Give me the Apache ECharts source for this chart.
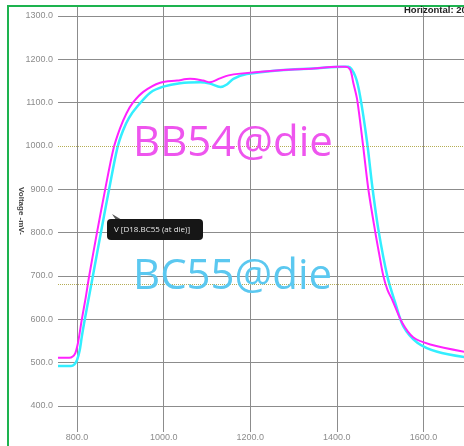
<!DOCTYPE html>
<html>
<head>
<meta charset="utf-8">
<script src="https://cdn.jsdelivr.net/npm/echarts@6/dist/echarts.min.js"></script>
<style>
html,body{margin:0;padding:0;background:#fff;}
#chart{width:464px;height:446px;}
</style>
</head>
<body>
<div id="chart"></div>
<script>
// Tick values
const xTicks = [800, 1000, 1200, 1400, 1600];
const yTicks = [400, 500, 600, 700, 800, 900, 1000, 1100, 1200, 1300];
const refLevels = [1000, 680];

// BB54@die (magenta)
const bb54X = [756,782,790,796,801,806,811,820,828,846,865,884,899,914,929,953,992,1031,1061,1091,1107,1130,1150,1177,1269,1346,1401,1420,1431,1438,1447,1461,1473,1489,1498,1507,1517,1528,1551,1577,1616,1700];
const bb54V = [511,511,514,522,540,568,600,650,700,800,900,993,1040,1075,1100,1125,1146,1151,1155,1151,1147,1156,1163,1167,1175,1179,1183,1183,1176,1146,1107,998,899,800,750,702,668,645,592,558,542,524];

// BC55@die (cyan)
const bc55X = [756,786,794,800,806,811,817,836,855,874,893,906,920,939,969,999,1038,1084,1107,1131,1146,1161,1192,1269,1346,1415,1427,1443,1454,1470,1482,1496,1517,1535,1554,1586,1632,1700];
const bc55V = [492,492,496,506,528,560,595,697,800,900,995,1035,1065,1091,1123,1137,1145,1147,1144,1136,1142,1155,1166,1175,1179,1183,1183,1160,1114,1008,906,807,698,638,583,546,525,512];

const pair = (xs, vs) => xs.map((x, i) => [x, vs[i]]);

const grey = '#8c8c8c';
const splitColors = [300].concat(yTicks).map(v => v === 1000 ? 'rgba(0,0,0,0)' : grey);

const chart = echarts.init(document.getElementById('chart'), null, {renderer: 'canvas'});
chart.setOption({
  animation: false,
  backgroundColor: '#ffffff',
  grid: [
    {left: 58, right: -46, top: 16, bottom: -3.3, containLabel: false, outerBoundsMode: 'none'},
    {left: -9.5, right: -46, top: 7, bottom: 14, containLabel: false, outerBoundsMode: 'none'}
  ],
  xAxis: [
    {gridIndex: 0, type: 'value', min: 756, max: 1800, show: false},
    {gridIndex: 1, type: 'value', min: 600, max: 1800, interval: 200,
     axisLine: {show: false}, axisTick: {show: false},
     axisLabel: {showMinLabel: false, showMaxLabel: false,
       formatter: v => xTicks.indexOf(v) >= 0 ? v.toFixed(1) : '',
       color: grey, fontSize: 9, margin: 1, fontFamily: 'Liberation Sans'},
     splitLine: {show: true, lineStyle: {color: grey, width: 1}}}
  ],
  yAxis: [
    {gridIndex: 0, type: 'value', min: 300, max: 1300, interval: 100,
     axisLine: {show: false}, axisTick: {show: false},
     axisLabel: {showMinLabel: false, formatter: v => yTicks.indexOf(v) >= 0 ? v.toFixed(1) : '',
       color: grey, fontSize: 9, margin: 5, fontFamily: 'Liberation Sans'},
     splitLine: {show: true, lineStyle: {color: splitColors, width: 1}}},
    {gridIndex: 1, type: 'value', min: 0, max: 1, show: false}
  ],
  series: [
    {type: 'line', xAxisIndex: 0, yAxisIndex: 0, data: pair(bc55X, bc55V), smooth: 0.3,
     symbol: 'none', lineStyle: {color: '#33eeff', width: 2.5}, z: 3,
     markLine: {silent: true, symbol: ['none', 'none'], label: {show: false},
       lineStyle: {type: 'dotted', color: '#b5ad55', width: 1},
       data: refLevels.map(v => ({yAxis: v}))}},
    {type: 'line', xAxisIndex: 0, yAxisIndex: 0, data: pair(bb54X, bb54V), smooth: 0.3,
     symbol: 'none', lineStyle: {color: '#ff22ff', width: 2}, z: 4}
  ],
  graphic: [
    {type: 'rect', shape: {x: 8, y: 6, width: 700, height: 700}, style: {fill: 'none', stroke: '#1db34f', lineWidth: 2}, z: 100},
    {type: 'text', x: 404, y: 10.5, style: {text: 'Horizontal: 20', font: 'bold 9.5px "Liberation Sans"', fill: '#222', verticalAlign: 'middle', align: 'left'}, z: 100},
    {type: 'text', x: 21, y: 211, rotation: -Math.PI / 2, style: {text: 'Voltage -mV-', font: 'bold 8px "Liberation Sans"', fill: '#444', verticalAlign: 'middle', align: 'center'}, z: 100},
    {type: 'text', x: 133, y: 144, style: {text: 'BB54@die', font: '42px "Open Sans"', fill: '#ee55ee', verticalAlign: 'middle', align: 'left'}, z: 100},
    {type: 'text', x: 133, y: 277, style: {text: 'BC55@die', font: '42px "Open Sans"', fill: '#5bc8f0', verticalAlign: 'middle', align: 'left'}, z: 100},
    {type: 'polygon', shape: {points: [[112, 214], [116, 220], [122, 220]]}, style: {fill: '#555'}, z: 100},
    {type: 'rect', shape: {x: 107, y: 219, width: 96, height: 21, r: 4}, style: {fill: '#161616'}, z: 101},
    {type: 'text', x: 114, y: 229.5, style: {text: 'V [D18.BC55 (at die)]', font: '8px "Open Sans"', fill: '#e6e6e6', verticalAlign: 'middle', align: 'left'}, z: 102}
  ]
});
</script>
</body>
</html>
